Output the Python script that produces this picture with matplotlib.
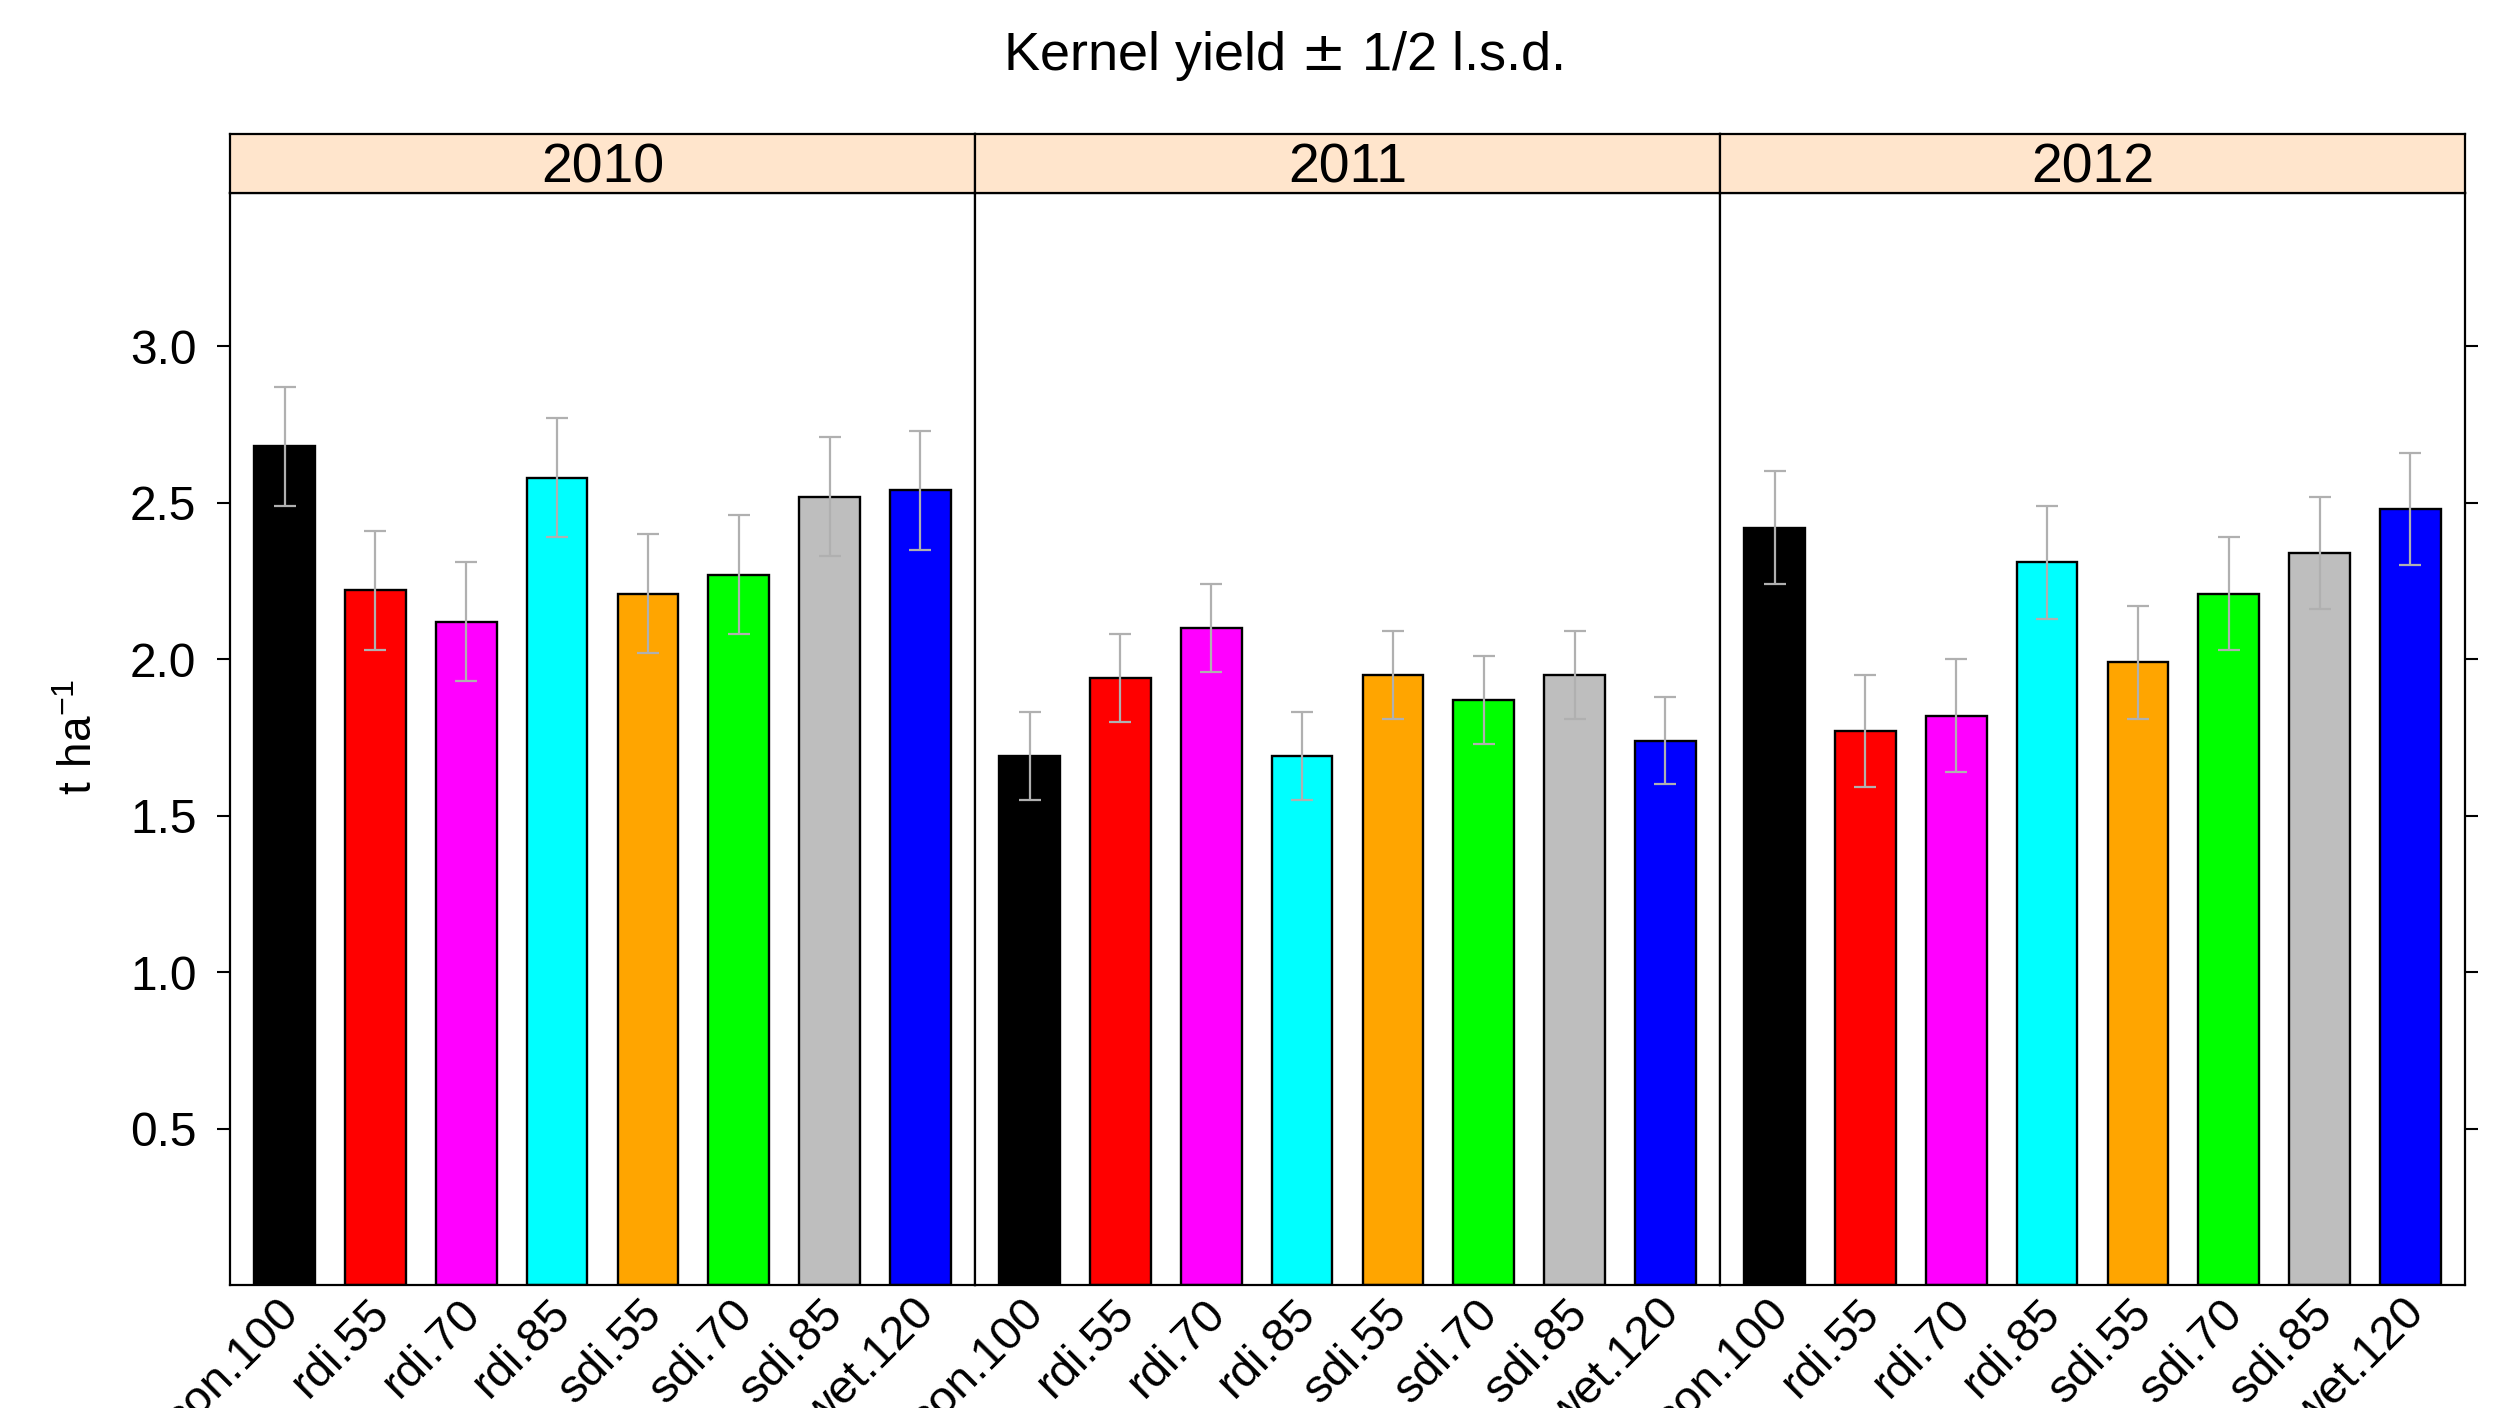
import matplotlib.pyplot as plt
import numpy as np

plt.rcParams['font.family'] = ['Liberation Sans', 'DejaVu Sans']

years = ['2010', '2011', '2012']
treatments = ['con.100', 'rdi.55', 'rdi.70', 'rdi.85', 'sdi.55', 'sdi.70', 'sdi.85', 'wet.120']
bar_colors = ['black', 'red', 'magenta', 'cyan', 'orange', '#00FF00', '#BEBEBE', 'blue']

# kernel yield (t/ha) per treatment, one list per year
yield_2010 = [2.68, 2.22, 2.12, 2.58, 2.21, 2.27, 2.52, 2.54]
yield_2011 = [1.69, 1.94, 2.10, 1.69, 1.95, 1.87, 1.95, 1.74]
yield_2012 = [2.42, 1.77, 1.82, 2.31, 1.99, 2.21, 2.34, 2.48]
half_lsd = [0.19, 0.14, 0.18]

yields = [yield_2010, yield_2011, yield_2012]
y_ticks = [0.5, 1.0, 1.5, 2.0, 2.5, 3.0]

W, H = 2502, 1408
fig = plt.figure(figsize=(W / 100, H / 100), dpi=100)

# panel layout in pixels
left0, pw = 230, 745
top_strip, top_panel, bottom = 134, 193, 1285

x = np.arange(1, len(treatments) + 1)
for i, year in enumerate(years):
    left = left0 + pw * i
    ax = fig.add_axes([left / W, 1 - bottom / H, pw / W, (bottom - top_panel) / H])
    ax.bar(x, yields[i], width=2 / 3, color=bar_colors, edgecolor='black',
           linewidth=1.7, zorder=2)
    ax.errorbar(x, yields[i], yerr=half_lsd[i], fmt='none', ecolor='#B0B0B0',
                elinewidth=1.6, capsize=7.9, capthick=1.6, zorder=3)
    ax.set_xlim(0.4, 8.6)
    ax.set_ylim(0, 3.49)
    for s in ax.spines.values():
        s.set_linewidth(1.6)
    ax.set_xticks([])
    ax.set_yticks(y_ticks)
    ax.tick_params(axis='y', length=9.2, width=1.5, labelsize=34.5, pad=15,
                   left=(i == 0), labelleft=(i == 0), right=(i == 2), labelright=False)
    if i == 0:
        ax.set_yticklabels(['%.1f' % t for t in y_ticks])
    for xi, lab in zip(x, treatments):
        ax.text(xi + 0.08, -0.02, lab, transform=ax.get_xaxis_transform(),
                rotation=45, rotation_mode='anchor', ha='right', va='center',
                fontsize=34)

    strip = fig.add_axes([left / W, 1 - top_panel / H, pw / W, (top_panel - top_strip) / H])
    strip.set_facecolor('#FFE5CC')
    strip.set_xticks([])
    strip.set_yticks([])
    for s in strip.spines.values():
        s.set_linewidth(1.6)
    strip.text(0.5, 0.42, year, ha='center', va='center', fontsize=40,
               transform=strip.transAxes)

fig.text(1283 / W, 1 - 56 / H, r'Kernel yield $\pm$ 1/2 l.s.d.', ha='center',
         va='center', fontsize=39)
fig.text(80 / W, 1 - 737 / H, r'$\mathregular{t\ ha^{-1}}$', rotation=90, ha='center',
         va='center', fontsize=33)

plt.savefig('out.png', dpi=100)
